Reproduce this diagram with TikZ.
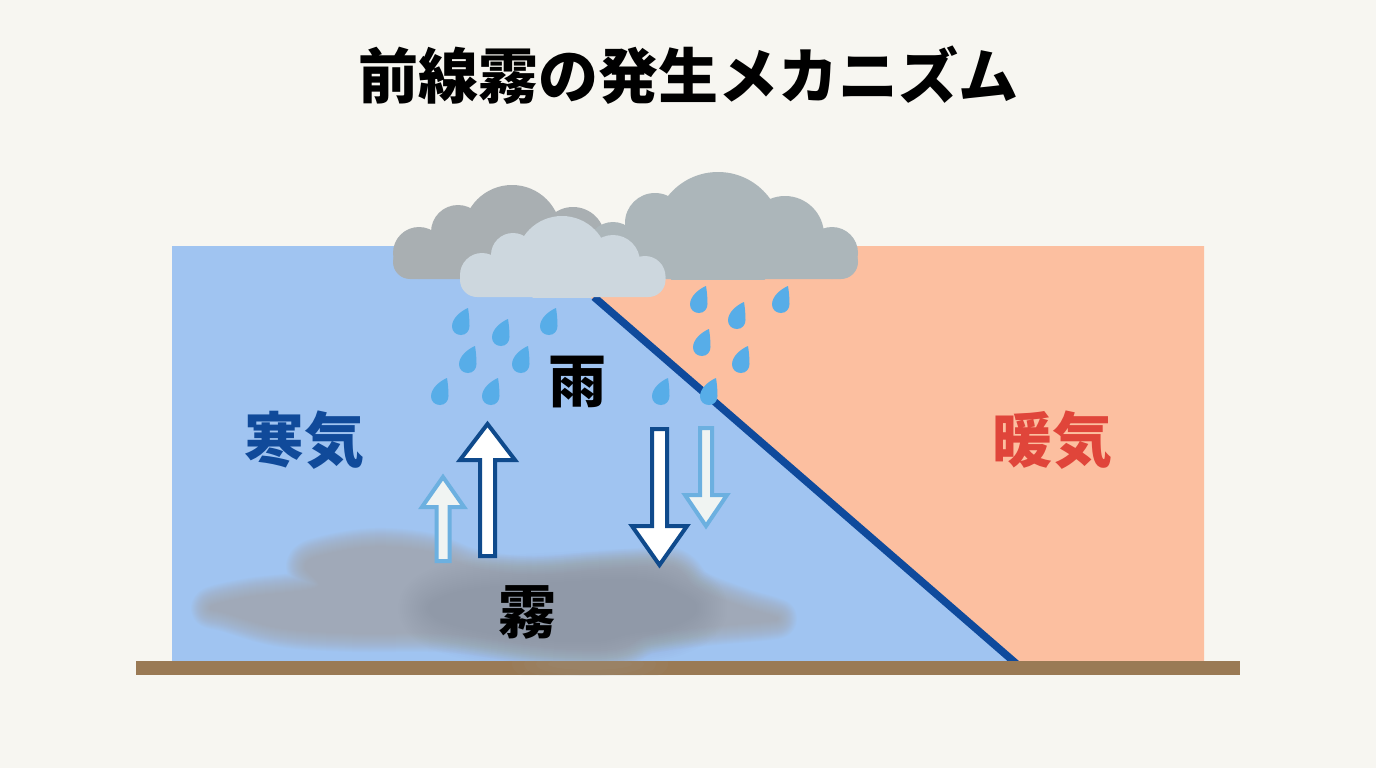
\documentclass[tikz,border=0pt]{standalone}
\usepackage{fontspec}
\newfontfamily\jpfont{Noto Sans CJK JP Black}
\usetikzlibrary{calc}
\definecolor{paper}{HTML}{F7F6F1}
\definecolor{coldair}{HTML}{A0C4F1}
\definecolor{warmair}{HTML}{FCBFA0}
\definecolor{frontline}{HTML}{0F4A9C}
\definecolor{groundc}{HTML}{9A7A55}
\definecolor{clouddark}{HTML}{A9AFB2}
\definecolor{cloudmid}{HTML}{ACB6BA}
\definecolor{cloudlight}{HTML}{CDD7DE}
\definecolor{dropc}{HTML}{57ADE8}
\definecolor{arrowdark}{HTML}{0F4A8C}
\definecolor{arrowlight}{HTML}{6CB0E0}
\definecolor{arrowpale}{HTML}{F0F4F2}
\definecolor{fogc}{HTML}{A0A6A8}
\definecolor{titlered}{HTML}{E0453A}
\definecolor{titleblue}{HTML}{104A9A}
\tikzset{
  label text/.style={font=\jpfont\fontsize{58}{58}\selectfont, inner sep=0pt, text=black},
  big text/.style={font=\jpfont\fontsize{60}{60}\selectfont, inner sep=0pt},
}
% raindrop: round belly at (#1,#2), tip leaning to the upper right
\newcommand{\raindrop}[2]{%
  \fill[dropc] (#1+7,#2-18) .. controls (#1+0,#2-15) and (#1-9,#2-8) .. (#1-9,#2+0.5)
    .. controls (#1-9,#2+5.5) and (#1-5,#2+9) .. (#1,#2+9)
    .. controls (#1+5,#2+9) and (#1+8.5,#2+5) .. (#1+8.5,#2)
    .. controls (#1+8.5,#2-6) and (#1+8,#2-12) .. (#1+7,#2-18) -- cycle;}
% vertical block arrow: x centre, tail y, head base y, tip y, shaft half width, head half width
\newcommand{\blockarrow}[8]{%
  \draw[line width=4pt, miter limit=8, draw=#7, fill=#8]
    (#1-#5,#2) -- (#1-#5,#3) -- (#1-#6,#3) -- (#1,#4) -- (#1+#6,#3) -- (#1+#5,#3) -- (#1+#5,#2) -- cycle;}
\newcommand{\fogoutline}{plot[smooth cycle, tension=0.6] coordinates {
  (212,607) (250,598) (318,588) (306,566) (324,556) (375,548) (429,553) (474,569) (532,576)
  (599,571) (662,567) (680,572) (697,590) (742,608) (772,617) (770,620) (706,626) (648,634)
  (617,648) (554,647) (451,633) (353,632) (281,627) (227,612)}}
\newcommand{\fogcore}{plot[smooth cycle, tension=0.7] coordinates {
  (440,600) (480,590) (560,584) (640,582) (680,595) (695,610) (670,625) (630,632) (590,640) (520,636) (460,625) (432,612)}}
\begin{document}
\begin{tikzpicture}[x=1pt,y=-1pt]
\useasboundingbox (0,0) rectangle (1376,768);
\fill[paper] (0,0) rectangle (1376,768);

% air masses and the frontal surface
\fill[coldair] (172,246) rectangle (1015,661);
\fill[warmair] (590,246) -- (1204,246) -- (1204,661) -- (1013,661) -- (590,297) -- cycle;
\draw[frontline, line width=7.5pt] (594,297) -- (1019,666);

% fog, blurred by stacked translucent strokes
\foreach \w in {40,38,...,2}{
  \begin{scope}[transparency group, opacity=0.058]
    \draw[fogc, fill=fogc, line width=\w pt, line join=round] \fogoutline;
  \end{scope}
}
\foreach \w in {64,60,...,4}{
  \begin{scope}[transparency group, opacity=0.011]
    \draw[black!40!fogc, fill=black!40!fogc, line width=\w pt, line join=round] \fogcore;
  \end{scope}
}

% ground
\fill[groundc] (136,661) rectangle (1240,675);
\begin{scope}
  \clip (136,661) rectangle (1240,675);
  \foreach \w in {24,18,12,6}{
    \fill[fogc, opacity=0.06] (590,664) ellipse ({30+2*\w} and \w);
  }
\end{scope}

% back clouds
\begin{scope}
  \clip (380,160) rectangle (880,279);
  \fill[clouddark]
    (419,253) circle (26)
    (458,232) circle (27)
    (512,234) circle (49)
    (573,239) circle (32);
  \fill[cloudmid]
    (613,248) circle (26)
    (718,236) circle (64)
    (655,223) circle (30)
    (785,235) circle (39)
    (832,253) circle (26);
\end{scope}
\fill[clouddark, rounded corners=17pt] (393,245) rectangle (640,279);
\fill[cloudmid, rounded corners=17pt] (600,245) rectangle (858,279);

% front cloud
\begin{scope}
  \clip (450,200) rectangle (680,297);
  \fill[cloudlight]
    (482,275) circle (22)
    (513,255) circle (22)
    (562,262) circle (46)
    (613,262) circle (27)
    (645,276.5) circle (20.5);
\end{scope}
\fill[cloudlight, rounded corners=17pt] (460,262) rectangle (665.5,297);

% rain on the warm side of the front
\raindrop{699}{304}\raindrop{737}{320}\raindrop{781}{304}\raindrop{702}{347}\raindrop{741}{364}
% rain falling into the cold air
\raindrop{461}{326}\raindrop{501}{337}\raindrop{549}{326}\raindrop{468}{364}\raindrop{521}{364}
\raindrop{440}{396}\raindrop{491}{396}\raindrop{661}{396}\raindrop{709}{396}

% vertical motion arrows
\blockarrow{443}{561}{507}{477}{6.5}{21}{arrowlight}{arrowpale}
\blockarrow{487.5}{556}{460}{424}{7.5}{27.5}{arrowdark}{white}
\blockarrow{659.5}{429}{526}{565}{7.5}{27.5}{arrowdark}{white}
\blockarrow{706}{428}{495}{526}{6}{21}{arrowlight}{arrowpale}

% labels
\node[big text, text=black] (title) at (688,75) {前線霧の発生メカニズム};
\node[big text, text=titleblue] (cold) at (304,440) {寒気};
\node[big text, text=titlered] (warm) at (1052,440) {暖気};
\node[label text] (rain) at (577,382) {雨};
\node[label text] (fog) at (527,612) {霧};
\end{tikzpicture}
\end{document}
